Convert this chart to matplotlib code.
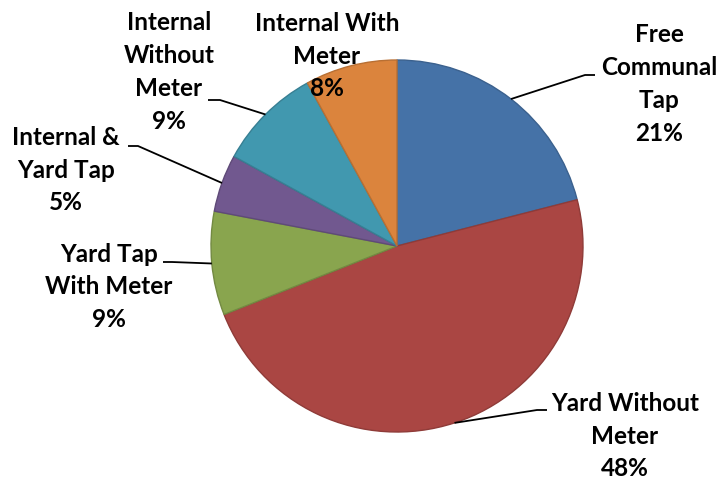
import numpy as np
import matplotlib
matplotlib.use("Agg")
import matplotlib.pyplot as plt

# slice data, clockwise from 12 o'clock
labels = ["Free\nCommunal\nTap", "Yard Without\nMeter", "Yard Tap\nWith Meter",
          "Internal &\nYard Tap", "Internal\nWithout\nMeter", "Internal With\nMeter"]
shares = [21, 48, 9, 5, 9, 8]
colors = ["#4572A7", "#AA4643", "#89A54E", "#71588F", "#4198AF", "#DB843D"]
edges = ["#3B618E", "#8F3B38", "#738A42", "#5F4A78", "#377F93", "#B86F33"]

# pie geometry in pixels (centre and radius) to map the canvas
W, H = 722, 479
cx, cy, R = 397, 246, 186


def px(x, y):
    # pixel position -> data units (pie radius = 1)
    return (x - cx) / R, (cy - y) / R


fig = plt.figure(figsize=(W / 100, H / 100), dpi=100)
ax = fig.add_axes([0, 0, 1, 1])
wedges, _ = ax.pie(shares, startangle=90, counterclock=False, radius=1,
                   colors=colors, wedgeprops=dict(linewidth=1.0))
for w, ec in zip(wedges, edges):
    w.set_edgecolor(ec)

ax.set_xlim(-cx / R, (W - cx) / R)
ax.set_ylim(-(H - cy) / R, cy / R)
ax.set_aspect("equal")
ax.axis("off")

# text centres and leader elbows (pixels); None = no leader line
text_pos = [(659, 84), (625, 436), (109, 287), (66, 170), (169, 72), (327, 56)]
elbows = [[(585, 75), (595, 75)], [(537, 410), (547, 410)], [(172, 262), (163, 262)],
          [(138, 146), (128, 146)], [(220, 100), (208, 100)], None]

for w, lab, pct, tp, el in zip(wedges, labels, shares, text_pos, elbows):
    ang = np.deg2rad((w.theta1 + w.theta2) / 2)
    if el is not None:
        xs = [np.cos(ang)] + [px(*p)[0] for p in el]
        ys = [np.sin(ang)] + [px(*p)[1] for p in el]
        ax.plot(xs, ys, color="black", lw=1.3, solid_capstyle="butt", clip_on=False)
    tx, ty = px(*tp)
    ax.text(tx, ty, "%s\n%d%%" % (lab, pct), ha="center", va="center",
            fontsize=17.5, fontweight="bold", family=["Lato", "DejaVu Sans"],
            linespacing=1.52, clip_on=False)

fig.savefig("out.png", dpi=100)
